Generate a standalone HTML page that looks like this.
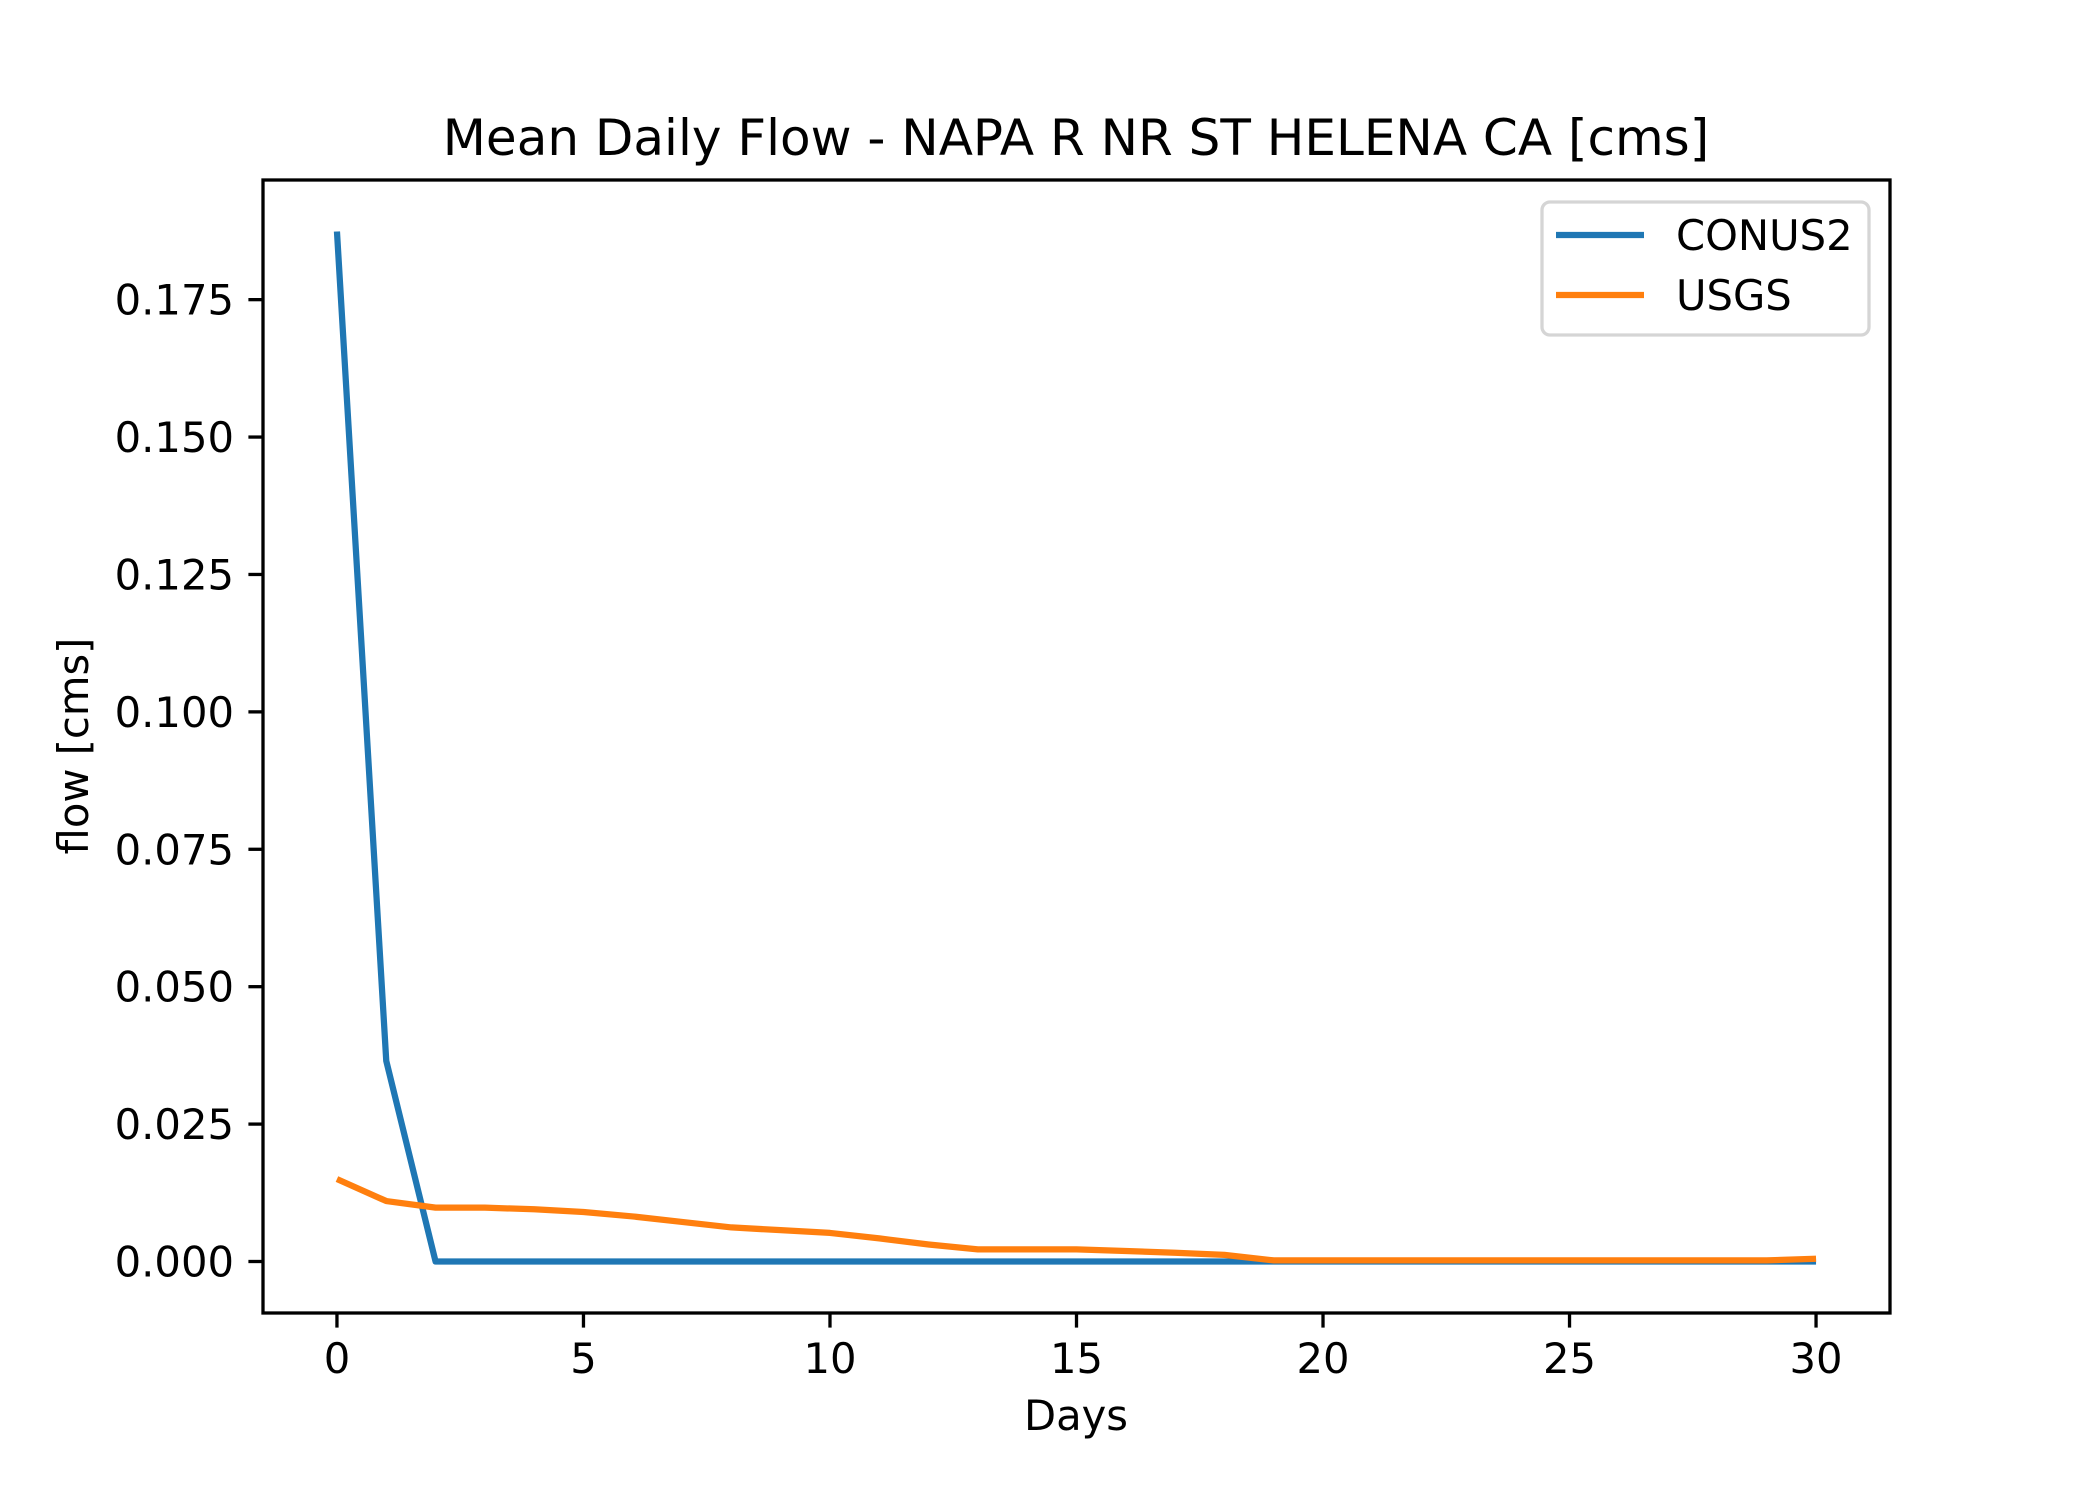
<!DOCTYPE html>
<html><head><meta charset="utf-8"><style>
body{margin:0;background:#fff}
svg{display:block;font-family:"DejaVu Sans","Liberation Sans",sans-serif}
</style></head><body>
<svg id="chart" width="2100" height="1500" viewBox="0 0 2100 1500">
<rect width="2100" height="1500" fill="#fff"/>
<text x="1076" y="155" font-size="50" text-anchor="middle">Mean Daily Flow - NAPA R NR ST HELENA CA [cms]</text>
<g id="marks"></g>
<rect x="263" y="180" width="1627" height="1133" fill="none" stroke="#000" stroke-width="3.3"/>
<g id="ticks"></g>
<text x="1076" y="1430" font-size="41.7" text-anchor="middle">Days</text>
<text transform="translate(88,746) rotate(-90)" font-size="41.7" text-anchor="middle">flow [cms]</text>
<g>
<rect x="1542" y="202" width="327" height="133" rx="8" fill="#fff" stroke="#d5d5d5" stroke-width="3.3"/>
<line x1="1556" y1="235" x2="1644" y2="235" stroke="#1f77b4" stroke-width="6.25"/>
<text x="1676" y="250" font-size="41.7">CONUS2</text>
<line x1="1556" y1="295" x2="1644" y2="295" stroke="#ff7f0e" stroke-width="6.25"/>
<text x="1676" y="310" font-size="41.7">USGS</text>
</g>
</svg>
<script>
const days = Array.from({length:31},(_, i)=>i);
const conus2 = [0.1874,0.0365,0,0,0,0,0,0,0,0,0,0,0,0,0,0,0,0,0,0,0,0,0,0,0,0,0,0,0,0,0];
const usgs = [0.0150,0.0110,0.0098,0.0098,0.0095,0.0090,0.0082,0.0072,0.0062,0.0057,0.0052,0.0042,0.0031,0.0022,0.0022,0.0022,0.0019,0.0016,0.0012,0.0002,0.0002,0.0002,0.0002,0.0002,0.0002,0.0002,0.0002,0.0002,0.0002,0.0002,0.0005];
const xTicks = [0,5,10,15,20,25,30];
const yTicks = ["0.000","0.025","0.050","0.075","0.100","0.125","0.150","0.175"];
const X0=263,X1=1890,Y0=1313,Y1=180,xmin=-1.5,xmax=31.5,ymin=-0.00937,ymax=0.19677;
const sx=v=>X0+(v-xmin)/(xmax-xmin)*(X1-X0);
const sy=v=>Y0-(v-ymin)/(ymax-ymin)*(Y0-Y1);
const NS="http://www.w3.org/2000/svg";
const marks=document.getElementById('marks'), ticks=document.getElementById('ticks');
function line(series,color,name){
  const p=document.createElementNS(NS,'polyline');
  p.setAttribute('points',series.map((v,i)=>sx(days[i])+','+sy(v)).join(' '));
  p.setAttribute('fill','none');p.setAttribute('stroke',color);p.setAttribute('stroke-width','6.25');
  p.setAttribute('stroke-linejoin','round');
  
  
  marks.appendChild(p);
}
line(conus2,'#1f77b4','conus2-line');
line(usgs,'#ff7f0e','usgs-line');
xTicks.forEach(t=>{
  const x=sx(t);
  const l=document.createElementNS(NS,'line');
  l.setAttribute('x1',x);l.setAttribute('x2',x);l.setAttribute('y1',Y0);l.setAttribute('y2',Y0+14.6);
  l.setAttribute('stroke','#000');l.setAttribute('stroke-width','3.3');
  
  
  ticks.appendChild(l);
  const tx=document.createElementNS(NS,'text');
  tx.setAttribute('x',x);tx.setAttribute('y',1373);tx.setAttribute('font-size','41.7');tx.setAttribute('text-anchor','middle');
  tx.textContent=t;
  
  
  ticks.appendChild(tx);
});
yTicks.forEach(t=>{
  const y=sy(parseFloat(t));
  const l=document.createElementNS(NS,'line');
  l.setAttribute('x1',X0-14.6);l.setAttribute('x2',X0);l.setAttribute('y1',y);l.setAttribute('y2',y);
  l.setAttribute('stroke','#000');l.setAttribute('stroke-width','3.3');
  
  
  ticks.appendChild(l);
  const tx=document.createElementNS(NS,'text');
  tx.setAttribute('x',234);tx.setAttribute('y',y+15);tx.setAttribute('font-size','41.7');tx.setAttribute('text-anchor','end');
  tx.textContent=t;
  
  
  ticks.appendChild(tx);
});
</script>
</body></html>
